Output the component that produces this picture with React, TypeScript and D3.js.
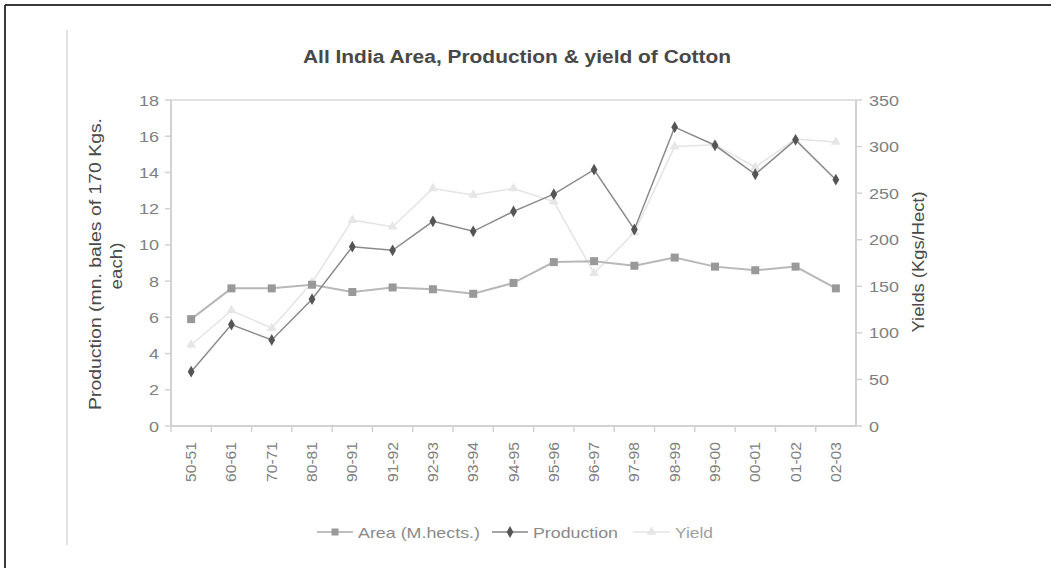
import React from "react";
import * as d3 from "d3";

const categories = ["50-51", "60-61", "70-71", "80-81", "90-91", "91-92", "92-93", "93-94", "94-95", "95-96", "96-97", "97-98", "98-99", "99-00", "00-01", "01-02", "02-03"];
const areaValues = [5.9, 7.6, 7.6, 7.8, 7.4, 7.65, 7.55, 7.3, 7.9, 9.05, 9.1, 8.85, 9.3, 8.8, 8.6, 8.8, 7.6];
const productionValues = [3.0, 5.6, 4.75, 7.0, 9.9, 9.7, 11.3, 10.75, 11.85, 12.8, 14.15, 10.85, 16.5, 15.5, 13.9, 15.8, 13.6];
const yieldValues = [87, 124, 105, 154, 221, 214, 255, 248, 255, 241, 164, 208, 300, 302, 278, 308, 305];
const leftTicks = [0, 2, 4, 6, 8, 10, 12, 14, 16, 18];
const rightTicks = [0, 50, 100, 150, 200, 250, 300, 350];

const FONT = "'Liberation Sans', Arial, sans-serif";

export default function App() {
  const W = 1051, H = 568;
  const x0 = 171, x1 = 856, yTop = 100, yBot = 426;

  const x = d3.scaleBand<string>().domain(categories).range([x0, x1]);
  const cx = (c: string) => (x(c) as number) + x.bandwidth() / 2;
  const yL = d3.scaleLinear().domain([0, 18]).range([yBot, yTop]);
  const yR = d3.scaleLinear().domain([0, 350]).range([yBot, yTop]);

  const lineL = d3.line<number>().x((_, i) => cx(categories[i])).y((v) => yL(v));
  const lineR = d3.line<number>().x((_, i) => cx(categories[i])).y((v) => yR(v));
  const diamond = d3.symbol().type(d3.symbolDiamond).size(40)() as string;
  const triangle = d3.symbol().type(d3.symbolTriangle).size(42)() as string;

  const tickColor = "#808080";
  const axisColor = "#d2d2d2";
  const digitW = 10;

  return (
    <svg width={W} height={H} style={{ position: "absolute", left: 0, top: 0, background: "#fff" }} fontFamily={FONT}>
      {/* page frame */}
      <line x1={5} y1={5} x2={W} y2={5} stroke="#3a3a3a" strokeWidth={2} />
      <line x1={5} y1={5} x2={5} y2={H} stroke="#3a3a3a" strokeWidth={2} />
      <line x1={67} y1={30} x2={67} y2={545} stroke="#e2e2e2" strokeWidth={2} />

      <text x={517} y={63} textAnchor="middle" fontSize={18} fontWeight="bold" fill="#484848"
        textLength={428} lengthAdjust="spacingAndGlyphs">
        All India Area, Production &amp; yield of Cotton
      </text>

      {/* plot frame */}
      <line x1={x0} y1={yTop} x2={x1} y2={yTop} stroke="#e0e0e0" strokeWidth={2} />
      <line x1={x0} y1={yTop} x2={x0} y2={yBot} stroke={axisColor} strokeWidth={2} />
      <line x1={x1} y1={yTop} x2={x1} y2={yBot} stroke={axisColor} strokeWidth={2} />
      <line x1={x0} y1={yBot} x2={x1} y2={yBot} stroke={axisColor} strokeWidth={2} />

      {/* left axis */}
      {leftTicks.map((t) => (
        <g key={"l" + t}>
          <line x1={x0 - 6} x2={x0} y1={yL(t)} y2={yL(t)} stroke={axisColor} strokeWidth={1.5} />
          <text x={159} y={yL(t) + 5.5} textAnchor="end" fontSize={15} fill={tickColor}
            textLength={String(t).length * digitW} lengthAdjust="spacingAndGlyphs">{t}</text>
        </g>
      ))}
      {/* right axis */}
      {rightTicks.map((t) => (
        <g key={"r" + t}>
          <line x1={x1} x2={x1 + 6} y1={yR(t)} y2={yR(t)} stroke={axisColor} strokeWidth={1.5} />
          <text x={869} y={yR(t) + 5.5} textAnchor="start" fontSize={15} fill={tickColor}
            textLength={String(t).length * digitW} lengthAdjust="spacingAndGlyphs">{t}</text>
        </g>
      ))}
      {/* category ticks and labels */}
      {categories.map((c, i) => (
        <line key={"t" + c} x1={x0 + i * x.bandwidth()} x2={x0 + i * x.bandwidth()} y1={yBot} y2={yBot + 6} stroke={axisColor} strokeWidth={1.5} />
      ))}
      {categories.map((c) => (
        <text key={"c" + c} transform={`translate(${cx(c) + 5},${442}) rotate(-90)`} textAnchor="end" fontSize={15} fill={tickColor}
          textLength={40} lengthAdjust="spacingAndGlyphs">{c}</text>
      ))}

      {/* axis titles */}
      <text transform={`translate(101,264) rotate(-90)`} textAnchor="middle" fontSize={16} fill="#4a4a4a"
        textLength={292} lengthAdjust="spacingAndGlyphs">
        Production (mn. bales of 170 Kgs.
      </text>
      <text transform={`translate(122,266) rotate(-90)`} textAnchor="middle" fontSize={16} fill="#4a4a4a"
        textLength={47} lengthAdjust="spacingAndGlyphs">
        each)
      </text>
      <text transform={`translate(924,262) rotate(-90)`} textAnchor="middle" fontSize={16} fill="#4a4a4a"
        textLength={141} lengthAdjust="spacingAndGlyphs">
        Yields (Kgs/Hect)
      </text>

      {/* Yield */}
      <path d={lineR(yieldValues) as string} fill="none" stroke="#e4e4e4" strokeWidth={1.5} />
      {yieldValues.map((v, i) => (
        <path key={"y" + i} d={triangle} transform={`translate(${cx(categories[i])},${yR(v)})`} fill="#e6e6e6" />
      ))}
      {/* Area */}
      <path d={lineL(areaValues) as string} fill="none" stroke="#b8b8b8" strokeWidth={2} />
      {areaValues.map((v, i) => (
        <rect key={"a" + i} x={cx(categories[i]) - 4} y={yL(v) - 4} width={8} height={8} fill="#999" />
      ))}
      {/* Production */}
      <path d={lineL(productionValues) as string} fill="none" stroke="#8a8a8a" strokeWidth={1.5} />
      {productionValues.map((v, i) => (
        <path key={"p" + i} d={diamond} transform={`translate(${cx(categories[i])},${yL(v)})`} fill="#555" />
      ))}

      {/* legend */}
      <g>
        <line x1={317} x2={353} y1={532} y2={532} stroke="#aaa" strokeWidth={1.5} />
        <rect x={331.5} y={528.5} width={7} height={7} fill="#999" />
        <text x={358} y={537.5} fontSize={15} fill="#8a8a8a" textLength={122} lengthAdjust="spacingAndGlyphs">Area (M.hects.)</text>
        <line x1={492} x2={528} y1={532} y2={532} stroke="#888" strokeWidth={1.5} />
        <path d={diamond} transform="translate(510,532)" fill="#555" />
        <text x={533} y={537.5} fontSize={15} fill="#8a8a8a" textLength={85} lengthAdjust="spacingAndGlyphs">Production</text>
        <line x1={633} x2={670} y1={532} y2={532} stroke="#e4e4e4" strokeWidth={1.5} />
        <path d={triangle} transform="translate(651.5,532)" fill="#e6e6e6" />
        <text x={675} y={537.5} fontSize={15} fill="#a0a0a0" textLength={38} lengthAdjust="spacingAndGlyphs">Yield</text>
      </g>
    </svg>
  );
}
